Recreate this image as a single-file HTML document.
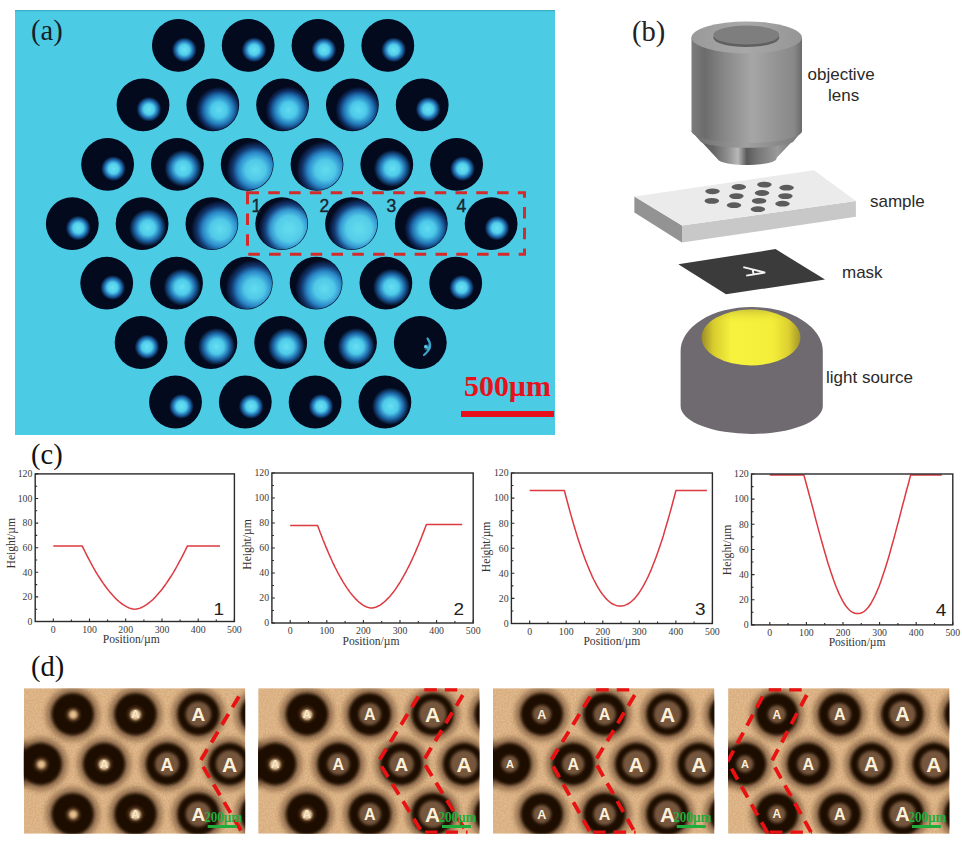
<!DOCTYPE html>
<html><head><meta charset="utf-8"><style>
html,body{margin:0;padding:0;background:#fff;overflow:hidden;}
svg{display:block;}
</style></head><body>
<svg width="962" height="845" viewBox="0 0 962 845">
<defs>
<radialGradient id="gS" cx="0.615" cy="0.585" r="0.24">
<stop offset="0" stop-color="#6ce2f2"/><stop offset="0.42" stop-color="#52cfec"/><stop offset="0.72" stop-color="#1e68ac" /><stop offset="1" stop-color="#040a1e"/></radialGradient>
<radialGradient id="gM" cx="0.61" cy="0.58" r="0.36">
<stop offset="0" stop-color="#68e0f2"/><stop offset="0.4" stop-color="#4ecbea"/><stop offset="0.7" stop-color="#1d68aa" /><stop offset="1" stop-color="#040a1e"/></radialGradient>
<radialGradient id="gN" cx="0.62" cy="0.6" r="0.45">
<stop offset="0" stop-color="#62dcf0"/><stop offset="0.34" stop-color="#4cc8ea"/><stop offset="0.64" stop-color="#2074b4"/><stop offset="0.84" stop-color="#0e2c60" /><stop offset="1" stop-color="#040a1e"/></radialGradient>
<radialGradient id="gP" cx="0.645" cy="0.6" r="0.59">
<stop offset="0" stop-color="#64dcee"/><stop offset="0.42" stop-color="#54cce8"/><stop offset="0.62" stop-color="#3496d0"/><stop offset="0.8" stop-color="#143c78" /><stop offset="1" stop-color="#040a1e"/></radialGradient>
<radialGradient id="gL" cx="0.66" cy="0.61" r="0.56">
<stop offset="0" stop-color="#62dcee"/><stop offset="0.35" stop-color="#50c8e8"/><stop offset="0.6" stop-color="#2a88c8"/><stop offset="0.8" stop-color="#12366e" /><stop offset="1" stop-color="#040a1e"/></radialGradient>
<radialGradient id="gX" cx="0.64" cy="0.6" r="0.08">
<stop offset="0" stop-color="#4cc0e0"/><stop offset="1" stop-color="#040a1e"/></radialGradient>
<linearGradient id="bodyG" x1="0" x2="1" y1="0" y2="0">
<stop offset="0" stop-color="#7c7c7c"/><stop offset="0.12" stop-color="#6c6c6c"/><stop offset="0.3" stop-color="#888"/><stop offset="0.55" stop-color="#a6a6a6"/><stop offset="0.78" stop-color="#939393"/><stop offset="0.93" stop-color="#888"/><stop offset="1" stop-color="#6a6a6a"/></linearGradient>
<linearGradient id="topG" x1="0" x2="1" y1="0" y2="0">
<stop offset="0" stop-color="#9a9a9a"/><stop offset="0.5" stop-color="#a8a8a8"/><stop offset="1" stop-color="#959595"/></linearGradient>
<linearGradient id="coneG" x1="0" x2="1" y1="0" y2="0">
<stop offset="0" stop-color="#555"/><stop offset="0.2" stop-color="#666"/><stop offset="0.33" stop-color="#909090"/><stop offset="0.42" stop-color="#b8b8b8"/><stop offset="0.5" stop-color="#5a5a5a"/><stop offset="0.6" stop-color="#777"/><stop offset="0.78" stop-color="#9a9a9a"/><stop offset="1" stop-color="#666"/></linearGradient>
<linearGradient id="cone2G" x1="0" x2="1" y1="0" y2="0">
<stop offset="0" stop-color="#6a6a6a"/><stop offset="0.5" stop-color="#a0a0a0"/><stop offset="1" stop-color="#7a7a7a"/></linearGradient>
<radialGradient id="yelG" cx="0.52" cy="0.45" r="0.55">
<stop offset="0" stop-color="#f6f23a"/><stop offset="0.55" stop-color="#f0ea30"/><stop offset="0.85" stop-color="#d2c228"/><stop offset="1" stop-color="#b09a2a"/></radialGradient>
<linearGradient id="yelH" x1="0" x2="1" y1="0" y2="0">
<stop offset="0" stop-color="#9a8c26"/><stop offset="0.12" stop-color="#d8cc2e"/><stop offset="0.3" stop-color="#f6f23e"/><stop offset="0.72" stop-color="#f4ee3a"/><stop offset="0.88" stop-color="#dcd030"/><stop offset="1" stop-color="#a4962a"/></linearGradient>
<linearGradient id="yelV" x1="0" x2="0" y1="0" y2="1">
<stop offset="0" stop-color="#8a7e28" stop-opacity="0.35"/><stop offset="0.25" stop-color="#f0ea38" stop-opacity="0"/><stop offset="1" stop-color="#f0ea38" stop-opacity="0"/></linearGradient>
<filter id="bl3" x="-50%" y="-50%" width="200%" height="200%"><feGaussianBlur stdDeviation="2.6"/></filter>
<filter id="bl2" x="-50%" y="-50%" width="200%" height="200%"><feGaussianBlur stdDeviation="1.8"/></filter>
<filter id="bl05" x="-50%" y="-50%" width="200%" height="200%"><feGaussianBlur stdDeviation="0.5"/></filter>
<filter id="bl15" x="-50%" y="-50%" width="200%" height="200%"><feGaussianBlur stdDeviation="1.5"/></filter>
<filter id="bl1" x="-50%" y="-50%" width="200%" height="200%"><feGaussianBlur stdDeviation="1"/></filter>
<filter id="noise"><feTurbulence type="fractalNoise" baseFrequency="0.6" numOctaves="2" seed="3"/><feColorMatrix type="matrix" values="0 0 0 0 0.92  0 0 0 0 0.76  0 0 0 0 0.56  1.2 0 0 0 -0.35"/><feComposite in2="SourceGraphic" operator="in"/></filter>
</defs>
<rect x="15" y="10" width="540" height="425" fill="#4ccbe5"/>
<rect x="15" y="10" width="540" height="1.2" fill="#3aaec6"/>
<circle cx="178.4" cy="45.4" r="26.4" fill="#040a1e"/>
<circle cx="178.4" cy="45.4" r="25.8" fill="url(#gS)"/>
<circle cx="248.2" cy="45.4" r="26.4" fill="#040a1e"/>
<circle cx="248.2" cy="45.4" r="25.8" fill="url(#gS)"/>
<circle cx="318.0" cy="45.4" r="26.4" fill="#040a1e"/>
<circle cx="318.0" cy="45.4" r="25.8" fill="url(#gS)"/>
<circle cx="387.8" cy="45.4" r="26.4" fill="#040a1e"/>
<circle cx="387.8" cy="45.4" r="25.8" fill="url(#gS)"/>
<circle cx="143.0" cy="104.8" r="26.4" fill="#040a1e"/>
<circle cx="143.0" cy="104.8" r="25.8" fill="url(#gS)"/>
<circle cx="212.8" cy="104.8" r="26.4" fill="#040a1e"/>
<circle cx="212.8" cy="104.8" r="25.8" fill="url(#gN)"/>
<circle cx="282.6" cy="104.8" r="26.4" fill="#040a1e"/>
<circle cx="282.6" cy="104.8" r="25.8" fill="url(#gN)"/>
<circle cx="352.4" cy="104.8" r="26.4" fill="#040a1e"/>
<circle cx="352.4" cy="104.8" r="25.8" fill="url(#gN)"/>
<circle cx="422.2" cy="104.8" r="26.4" fill="#040a1e"/>
<circle cx="422.2" cy="104.8" r="25.8" fill="url(#gS)"/>
<circle cx="107.6" cy="164.3" r="26.4" fill="#040a1e"/>
<circle cx="107.6" cy="164.3" r="25.8" fill="url(#gS)"/>
<circle cx="177.4" cy="164.3" r="26.4" fill="#040a1e"/>
<circle cx="177.4" cy="164.3" r="25.8" fill="url(#gM)"/>
<circle cx="247.2" cy="164.3" r="26.4" fill="#040a1e"/>
<circle cx="247.2" cy="164.3" r="25.8" fill="url(#gL)"/>
<circle cx="317.0" cy="164.3" r="26.4" fill="#040a1e"/>
<circle cx="317.0" cy="164.3" r="25.8" fill="url(#gL)"/>
<circle cx="386.8" cy="164.3" r="26.4" fill="#040a1e"/>
<circle cx="386.8" cy="164.3" r="25.8" fill="url(#gM)"/>
<circle cx="456.6" cy="164.3" r="26.4" fill="#040a1e"/>
<circle cx="456.6" cy="164.3" r="25.8" fill="url(#gS)"/>
<circle cx="72.3" cy="223.7" r="26.4" fill="#040a1e"/>
<circle cx="72.3" cy="223.7" r="25.8" fill="url(#gS)"/>
<circle cx="142.1" cy="223.7" r="26.4" fill="#040a1e"/>
<circle cx="142.1" cy="223.7" r="25.8" fill="url(#gM)"/>
<circle cx="211.9" cy="223.7" r="26.4" fill="#040a1e"/>
<circle cx="211.9" cy="223.7" r="25.8" fill="url(#gL)"/>
<circle cx="281.7" cy="223.7" r="26.4" fill="#040a1e"/>
<circle cx="281.7" cy="223.7" r="25.8" fill="url(#gP)"/>
<circle cx="351.5" cy="223.7" r="26.4" fill="#040a1e"/>
<circle cx="351.5" cy="223.7" r="25.8" fill="url(#gP)"/>
<circle cx="421.3" cy="223.7" r="26.4" fill="#040a1e"/>
<circle cx="421.3" cy="223.7" r="25.8" fill="url(#gN)"/>
<circle cx="491.1" cy="223.7" r="26.4" fill="#040a1e"/>
<circle cx="491.1" cy="223.7" r="25.8" fill="url(#gS)"/>
<circle cx="106.7" cy="283.1" r="26.4" fill="#040a1e"/>
<circle cx="106.7" cy="283.1" r="25.8" fill="url(#gS)"/>
<circle cx="176.5" cy="283.1" r="26.4" fill="#040a1e"/>
<circle cx="176.5" cy="283.1" r="25.8" fill="url(#gM)"/>
<circle cx="246.3" cy="283.1" r="26.4" fill="#040a1e"/>
<circle cx="246.3" cy="283.1" r="25.8" fill="url(#gL)"/>
<circle cx="316.1" cy="283.1" r="26.4" fill="#040a1e"/>
<circle cx="316.1" cy="283.1" r="25.8" fill="url(#gL)"/>
<circle cx="385.9" cy="283.1" r="26.4" fill="#040a1e"/>
<circle cx="385.9" cy="283.1" r="25.8" fill="url(#gM)"/>
<circle cx="455.7" cy="283.1" r="26.4" fill="#040a1e"/>
<circle cx="455.7" cy="283.1" r="25.8" fill="url(#gS)"/>
<circle cx="141.1" cy="342.5" r="26.4" fill="#040a1e"/>
<circle cx="141.1" cy="342.5" r="25.8" fill="url(#gS)"/>
<circle cx="210.9" cy="342.5" r="26.4" fill="#040a1e"/>
<circle cx="210.9" cy="342.5" r="25.8" fill="url(#gM)"/>
<circle cx="280.7" cy="342.5" r="26.4" fill="#040a1e"/>
<circle cx="280.7" cy="342.5" r="25.8" fill="url(#gM)"/>
<circle cx="350.5" cy="342.5" r="26.4" fill="#040a1e"/>
<circle cx="350.5" cy="342.5" r="25.8" fill="url(#gM)"/>
<circle cx="420.3" cy="342.5" r="26.4" fill="#040a1e"/>
<circle cx="420.3" cy="342.5" r="25.8" fill="url(#gX)"/>
<circle cx="175.5" cy="402.0" r="26.4" fill="#040a1e"/>
<circle cx="175.5" cy="402.0" r="25.8" fill="url(#gS)"/>
<circle cx="245.3" cy="402.0" r="26.4" fill="#040a1e"/>
<circle cx="245.3" cy="402.0" r="25.8" fill="url(#gS)"/>
<circle cx="315.1" cy="402.0" r="26.4" fill="#040a1e"/>
<circle cx="315.1" cy="402.0" r="25.8" fill="url(#gS)"/>
<circle cx="384.9" cy="402.0" r="26.4" fill="#040a1e"/>
<circle cx="384.9" cy="402.0" r="25.8" fill="url(#gM)"/>
<path d="M427.5,338.5 Q434,347 424,355" fill="none" stroke="#3fb4dc" stroke-width="2.2" stroke-linecap="round" opacity="0.9"/>
<circle cx="425.6" cy="346.5" r="1.6" fill="#5ad0ee"/>
<text x="31" y="39.8" font-family="Liberation Serif, serif" font-size="28.5" fill="#15202a">(a)</text>
<rect x="247.5" y="192.8" width="277" height="61.5" fill="none" stroke="#d42a2a" stroke-width="3" stroke-dasharray="11.5 9.3"/>
<text x="251.5" y="212" font-family="Liberation Sans, sans-serif" font-size="17.5" fill="#1c2630" stroke="#1c2630" stroke-width="0.4">1</text>
<text x="319.5" y="212" font-family="Liberation Sans, sans-serif" font-size="17.5" fill="#1c2630" stroke="#1c2630" stroke-width="0.4">2</text>
<text x="386.5" y="212" font-family="Liberation Sans, sans-serif" font-size="17.5" fill="#1c2630" stroke="#1c2630" stroke-width="0.4">3</text>
<text x="456.5" y="212" font-family="Liberation Sans, sans-serif" font-size="17.5" fill="#1c2630" stroke="#1c2630" stroke-width="0.4">4</text>
<text x="464" y="396" font-family="Liberation Serif, serif" font-weight="bold" font-size="29.5" fill="#e8101a" textLength="87" lengthAdjust="spacingAndGlyphs">500µm</text>
<rect x="461" y="411" width="93" height="6" fill="#e8101a"/>
<text x="632" y="41" font-family="Liberation Serif, serif" font-size="28.5" fill="#222">(b)</text>
<path d="M691.5,131 L717.5,159 A29.5,6.5 0 0 0 776.5,158 L802,131 Z" fill="url(#coneG)"/>
<path d="M691.5,131 L701,142 A48,8 0 0 0 793,142 L802,131 Z" fill="url(#cone2G)"/>
<path d="M691.5,37.5 L691.5,131 A55.25,12 0 0 0 802,131 L802,37.5 Z" fill="url(#bodyG)"/>
<ellipse cx="746.7" cy="37.5" rx="55.25" ry="16" fill="url(#topG)"/>
<ellipse cx="746.3" cy="37.5" rx="33" ry="9.5" fill="#5f5f5f"/>
<ellipse cx="746.3" cy="35" rx="33" ry="9.5" fill="#7e7e7e"/>
<text font-family="Liberation Sans, sans-serif" font-size="17" fill="#2a2a2a"><tspan x="807.5" y="80">objective</tspan><tspan x="828" y="101">lens</tspan></text>
<polygon points="634.4,196.4 682,225.4 682,242.5 634.4,212.5" fill="#939393"/>
<polygon points="682,225.4 855.9,201 855.9,216.8 682,242.5" fill="#c8c8c8"/>
<polygon points="634.4,196.4 814,170.3 855.9,201 682,225.4" fill="#ebebeb"/>
<ellipse cx="712.5" cy="191.3" rx="7.3" ry="2.9" fill="#5c5c5c"/>
<ellipse cx="738.8" cy="187" rx="7.3" ry="2.9" fill="#5c5c5c"/>
<ellipse cx="764.4" cy="184.6" rx="7.3" ry="2.9" fill="#5c5c5c"/>
<ellipse cx="786.6" cy="187.7" rx="7.3" ry="2.9" fill="#5c5c5c"/>
<ellipse cx="711.8" cy="200.9" rx="7.3" ry="2.9" fill="#5c5c5c"/>
<ellipse cx="736.4" cy="196.1" rx="7.3" ry="2.9" fill="#5c5c5c"/>
<ellipse cx="762" cy="193" rx="7.3" ry="2.9" fill="#5c5c5c"/>
<ellipse cx="785.4" cy="196.1" rx="7.3" ry="2.9" fill="#5c5c5c"/>
<ellipse cx="734" cy="205.2" rx="7.3" ry="2.9" fill="#5c5c5c"/>
<ellipse cx="759.1" cy="200.9" rx="7.3" ry="2.9" fill="#5c5c5c"/>
<ellipse cx="782.5" cy="203.7" rx="7.3" ry="2.9" fill="#5c5c5c"/>
<ellipse cx="757.9" cy="209.2" rx="7.3" ry="2.9" fill="#5c5c5c"/>
<text x="870" y="207" font-family="Liberation Sans, sans-serif" font-size="17" fill="#2a2a2a">sample</text>
<polygon points="678.3,264.3 775.5,249.1 825,279.5 726,294.3" fill="#3b3b3b"/>
<path d="M743.3,267.2 L765.2,272.6 L746.2,275.6 M752.5,269.2 L753.6,274.2" fill="none" stroke="#f4f4f4" stroke-width="1.9" stroke-linejoin="miter"/>
<text x="842" y="278" font-family="Liberation Sans, sans-serif" font-size="17" fill="#2a2a2a">mask</text>
<path d="M680.6,351 A71.1,44 0 0 1 822.8,351 L822.8,406 A71.1,28 0 0 1 680.6,406 Z" fill="#6f6a70"/>
<ellipse cx="751" cy="337.5" rx="49.4" ry="27.9" fill="url(#yelH)"/>
<ellipse cx="751" cy="337.5" rx="49.4" ry="27.9" fill="url(#yelV)"/>
<text x="826" y="383" font-family="Liberation Sans, sans-serif" font-size="17" fill="#2a2a2a">light source</text>
<text x="31" y="464" font-family="Liberation Serif, serif" font-size="28.5" fill="#111">(c)</text>
<path d="M53.3,546.1 L82.3,546.1 L83.6,548.8 L84.9,551.5 L86.2,554.1 L87.5,556.7 L88.8,559.2 L90.2,561.7 L91.5,564.1 L92.8,566.5 L94.1,568.8 L95.4,571.1 L96.7,573.3 L98.0,575.4 L99.4,577.5 L100.7,579.5 L102.0,581.5 L103.3,583.4 L104.6,585.2 L105.9,587.0 L107.2,588.8 L108.5,590.4 L109.9,592.1 L111.2,593.6 L112.5,595.1 L113.8,596.5 L115.1,597.9 L116.4,599.2 L117.7,600.4 L119.0,601.5 L120.4,602.6 L121.7,603.6 L123.0,604.6 L124.3,605.4 L125.6,606.2 L126.9,606.9 L128.2,607.5 L129.5,608.1 L130.9,608.5 L132.2,608.9 L133.5,609.1 L134.8,609.2 L136.1,609.1 L137.4,608.9 L138.7,608.5 L140.1,608.1 L141.4,607.5 L142.7,606.9 L144.0,606.2 L145.3,605.4 L146.6,604.6 L147.9,603.6 L149.2,602.6 L150.6,601.5 L151.9,600.4 L153.2,599.2 L154.5,597.9 L155.8,596.5 L157.1,595.1 L158.4,593.6 L159.7,592.1 L161.1,590.4 L162.4,588.8 L163.7,587.0 L165.0,585.2 L166.3,583.4 L167.6,581.5 L168.9,579.5 L170.2,577.5 L171.6,575.4 L172.9,573.3 L174.2,571.1 L175.5,568.8 L176.8,566.5 L178.1,564.1 L179.4,561.7 L180.8,559.2 L182.1,556.7 L183.4,554.1 L184.7,551.5 L186.0,548.8 L187.3,546.1 L219.9,546.1" fill="none" stroke="#dc3a40" stroke-width="1.5" stroke-linejoin="round"/>
<rect x="35.2" y="473.9" width="199.2" height="147.6" fill="none" stroke="#2a2a2a" stroke-width="1.4"/>
<path d="M35.2,621.5 h3 M35.2,609.2 h2 M35.2,596.9 h3 M35.2,584.6 h2 M35.2,572.3 h3 M35.2,560.0 h2 M35.2,547.7 h3 M35.2,535.4 h2 M35.2,523.1 h3 M35.2,510.8 h2 M35.2,498.5 h3 M35.2,486.2 h2 M35.2,473.9 h3 M53.3,621.5 v-3 M71.4,621.5 v-2 M89.5,621.5 v-3 M107.6,621.5 v-2 M125.7,621.5 v-3 M143.9,621.5 v-2 M162.0,621.5 v-3 M180.1,621.5 v-2 M198.2,621.5 v-3 M216.3,621.5 v-2 M234.4,621.5 v-3" stroke="#2a2a2a" stroke-width="1.1"/>
<g font-family="Liberation Serif, serif" font-size="9.8" fill="#3a3a3a"><text x="32.4" y="624.8" text-anchor="end">0</text><text x="32.4" y="600.2" text-anchor="end">20</text><text x="32.4" y="575.6" text-anchor="end">40</text><text x="32.4" y="551.0" text-anchor="end">60</text><text x="32.4" y="526.4" text-anchor="end">80</text><text x="32.4" y="501.8" text-anchor="end">100</text><text x="32.4" y="477.2" text-anchor="end">120</text><text x="53.3" y="632.7" text-anchor="middle">0</text><text x="89.5" y="632.7" text-anchor="middle">100</text><text x="125.7" y="632.7" text-anchor="middle">200</text><text x="162.0" y="632.7" text-anchor="middle">300</text><text x="198.2" y="632.7" text-anchor="middle">400</text><text x="234.4" y="632.7" text-anchor="middle">500</text></g>
<text x="131.2" y="643.0" text-anchor="middle" font-family="Liberation Serif, serif" font-size="11.6" fill="#333">Position/µm</text>
<text transform="translate(15.1,543.2) rotate(-90)" text-anchor="middle" font-family="Liberation Serif, serif" font-size="11.6" fill="#333">Height/µm</text>
<text transform="translate(213.4,614.5) scale(1.12,1)" font-family="Liberation Sans, sans-serif" font-size="17" fill="#222">1</text>
<path d="M290.2,525.5 L317.6,525.5 L319.0,529.2 L320.3,532.8 L321.7,536.3 L323.0,539.8 L324.4,543.1 L325.7,546.4 L327.1,549.6 L328.4,552.8 L329.8,555.9 L331.1,558.8 L332.4,561.8 L333.8,564.6 L335.1,567.3 L336.5,570.0 L337.8,572.6 L339.2,575.1 L340.5,577.5 L341.9,579.9 L343.2,582.1 L344.6,584.3 L345.9,586.4 L347.2,588.4 L348.6,590.3 L349.9,592.1 L351.3,593.9 L352.6,595.5 L354.0,597.1 L355.3,598.6 L356.7,599.9 L358.0,601.2 L359.3,602.4 L360.7,603.4 L362.0,604.4 L363.4,605.3 L364.7,606.0 L366.1,606.7 L367.4,607.2 L368.8,607.6 L370.1,607.9 L371.5,608.0 L372.8,607.9 L374.2,607.6 L375.6,607.2 L376.9,606.7 L378.3,606.0 L379.7,605.3 L381.1,604.4 L382.4,603.4 L383.8,602.3 L385.2,601.1 L386.5,599.8 L387.9,598.4 L389.3,597.0 L390.7,595.4 L392.0,593.7 L393.4,592.0 L394.8,590.1 L396.2,588.2 L397.5,586.1 L398.9,584.0 L400.3,581.8 L401.6,579.5 L403.0,577.2 L404.4,574.7 L405.8,572.2 L407.1,569.5 L408.5,566.8 L409.9,564.1 L411.3,561.2 L412.6,558.2 L414.0,555.2 L415.4,552.1 L416.7,548.9 L418.1,545.7 L419.5,542.3 L420.9,538.9 L422.2,535.4 L423.6,531.9 L425.0,528.2 L426.4,524.5 L462.2,524.5" fill="none" stroke="#dc3a40" stroke-width="1.5" stroke-linejoin="round"/>
<rect x="271.9" y="473.0" width="201.3" height="150.0" fill="none" stroke="#2a2a2a" stroke-width="1.4"/>
<path d="M271.9,623.0 h3 M271.9,610.5 h2 M271.9,598.0 h3 M271.9,585.5 h2 M271.9,573.0 h3 M271.9,560.5 h2 M271.9,548.0 h3 M271.9,535.5 h2 M271.9,523.0 h3 M271.9,510.5 h2 M271.9,498.0 h3 M271.9,485.5 h2 M271.9,473.0 h3 M290.2,623.0 v-3 M308.5,623.0 v-2 M326.8,623.0 v-3 M345.1,623.0 v-2 M363.4,623.0 v-3 M381.7,623.0 v-2 M400.0,623.0 v-3 M418.3,623.0 v-2 M436.6,623.0 v-3 M454.9,623.0 v-2 M473.2,623.0 v-3" stroke="#2a2a2a" stroke-width="1.1"/>
<g font-family="Liberation Serif, serif" font-size="9.8" fill="#3a3a3a"><text x="269.1" y="626.3" text-anchor="end">0</text><text x="269.1" y="601.3" text-anchor="end">20</text><text x="269.1" y="576.3" text-anchor="end">40</text><text x="269.1" y="551.3" text-anchor="end">60</text><text x="269.1" y="526.3" text-anchor="end">80</text><text x="269.1" y="501.3" text-anchor="end">100</text><text x="269.1" y="476.3" text-anchor="end">120</text><text x="290.2" y="634.2" text-anchor="middle">0</text><text x="326.8" y="634.2" text-anchor="middle">100</text><text x="363.4" y="634.2" text-anchor="middle">200</text><text x="400.0" y="634.2" text-anchor="middle">300</text><text x="436.6" y="634.2" text-anchor="middle">400</text><text x="473.2" y="634.2" text-anchor="middle">500</text></g>
<text x="371.0" y="644.5" text-anchor="middle" font-family="Liberation Serif, serif" font-size="11.6" fill="#333">Position/µm</text>
<text transform="translate(251.4,544.5) rotate(-90)" text-anchor="middle" font-family="Liberation Serif, serif" font-size="11.6" fill="#333">Height/µm</text>
<text transform="translate(453.5,615.2) scale(1.12,1)" font-family="Liberation Sans, sans-serif" font-size="17" fill="#222">2</text>
<path d="M529.7,490.6 L564.4,490.6 L565.8,496.0 L567.2,501.3 L568.6,506.5 L570.0,511.6 L571.4,516.6 L572.8,521.5 L574.2,526.3 L575.6,530.9 L577.0,535.5 L578.4,539.9 L579.8,544.1 L581.2,548.3 L582.6,552.3 L584.0,556.2 L585.4,559.9 L586.8,563.5 L588.2,567.0 L589.6,570.4 L591.0,573.5 L592.3,576.6 L593.7,579.5 L595.1,582.2 L596.5,584.9 L597.9,587.3 L599.3,589.6 L600.7,591.8 L602.1,593.8 L603.5,595.6 L604.9,597.3 L606.3,598.9 L607.7,600.2 L609.1,601.5 L610.5,602.6 L611.9,603.5 L613.3,604.3 L614.7,604.9 L616.1,605.4 L617.5,605.7 L618.9,605.9 L620.3,605.9 L621.7,605.9 L623.1,605.7 L624.5,605.4 L625.9,604.9 L627.2,604.3 L628.6,603.5 L630.0,602.6 L631.4,601.5 L632.8,600.2 L634.2,598.9 L635.6,597.3 L637.0,595.6 L638.4,593.8 L639.7,591.8 L641.1,589.6 L642.5,587.3 L643.9,584.9 L645.3,582.2 L646.7,579.5 L648.1,576.6 L649.5,573.5 L650.9,570.4 L652.2,567.0 L653.6,563.5 L655.0,559.9 L656.4,556.2 L657.8,552.3 L659.2,548.3 L660.6,544.1 L662.0,539.9 L663.4,535.5 L664.7,530.9 L666.1,526.3 L667.5,521.5 L668.9,516.6 L670.3,511.6 L671.7,506.5 L673.1,501.3 L674.5,496.0 L675.9,490.6 L706.9,490.6" fill="none" stroke="#dc3a40" stroke-width="1.5" stroke-linejoin="round"/>
<rect x="511.4" y="473.0" width="201.0" height="150.5" fill="none" stroke="#2a2a2a" stroke-width="1.4"/>
<path d="M511.4,623.5 h3 M511.4,611.0 h2 M511.4,598.4 h3 M511.4,585.9 h2 M511.4,573.3 h3 M511.4,560.8 h2 M511.4,548.2 h3 M511.4,535.7 h2 M511.4,523.2 h3 M511.4,510.6 h2 M511.4,498.1 h3 M511.4,485.5 h2 M511.4,473.0 h3 M529.7,623.5 v-3 M547.9,623.5 v-2 M566.2,623.5 v-3 M584.5,623.5 v-2 M602.8,623.5 v-3 M621.0,623.5 v-2 M639.3,623.5 v-3 M657.6,623.5 v-2 M675.9,623.5 v-3 M694.1,623.5 v-2 M712.4,623.5 v-3" stroke="#2a2a2a" stroke-width="1.1"/>
<g font-family="Liberation Serif, serif" font-size="9.8" fill="#3a3a3a"><text x="508.6" y="626.8" text-anchor="end">0</text><text x="508.6" y="601.7" text-anchor="end">20</text><text x="508.6" y="576.6" text-anchor="end">40</text><text x="508.6" y="551.5" text-anchor="end">60</text><text x="508.6" y="526.5" text-anchor="end">80</text><text x="508.6" y="501.4" text-anchor="end">100</text><text x="508.6" y="476.3" text-anchor="end">120</text><text x="529.7" y="634.7" text-anchor="middle">0</text><text x="566.2" y="634.7" text-anchor="middle">100</text><text x="602.8" y="634.7" text-anchor="middle">200</text><text x="639.3" y="634.7" text-anchor="middle">300</text><text x="675.9" y="634.7" text-anchor="middle">400</text><text x="712.4" y="634.7" text-anchor="middle">500</text></g>
<text x="611.9" y="645.0" text-anchor="middle" font-family="Liberation Serif, serif" font-size="11.6" fill="#333">Position/µm</text>
<text transform="translate(490.2,546.9) rotate(-90)" text-anchor="middle" font-family="Liberation Serif, serif" font-size="11.6" fill="#333">Height/µm</text>
<text transform="translate(695.0,614.7) scale(1.12,1)" font-family="Liberation Sans, sans-serif" font-size="17" fill="#222">3</text>
<path d="M769.8,474.9 L803.8,474.9 L805.2,479.8 L806.5,484.7 L807.9,489.7 L809.2,494.7 L810.6,499.8 L811.9,504.8 L813.3,509.9 L814.6,515.0 L815.9,520.1 L817.3,525.1 L818.6,530.1 L820.0,535.1 L821.3,540.0 L822.7,544.8 L824.0,549.5 L825.4,554.2 L826.7,558.7 L828.0,563.2 L829.4,567.5 L830.7,571.6 L832.1,575.6 L833.4,579.5 L834.8,583.2 L836.1,586.7 L837.5,590.0 L838.8,593.1 L840.2,596.0 L841.5,598.7 L842.8,601.2 L844.2,603.5 L845.5,605.5 L846.9,607.3 L848.2,608.8 L849.6,610.2 L850.9,611.3 L852.3,612.1 L853.6,612.8 L854.9,613.3 L856.3,613.5 L857.6,613.6 L859.0,613.5 L860.3,613.3 L861.6,612.8 L862.9,612.1 L864.3,611.3 L865.6,610.2 L866.9,608.8 L868.3,607.3 L869.6,605.5 L870.9,603.5 L872.2,601.2 L873.6,598.7 L874.9,596.0 L876.2,593.1 L877.5,590.0 L878.9,586.7 L880.2,583.2 L881.5,579.5 L882.8,575.6 L884.2,571.6 L885.5,567.5 L886.8,563.2 L888.2,558.7 L889.5,554.2 L890.8,549.5 L892.1,544.8 L893.5,540.0 L894.8,535.1 L896.1,530.1 L897.4,525.1 L898.8,520.1 L900.1,515.0 L901.4,509.9 L902.7,504.8 L904.1,499.8 L905.4,494.7 L906.7,489.7 L908.1,484.7 L909.4,479.8 L910.7,474.9 L941.8,474.9" fill="none" stroke="#dc3a40" stroke-width="1.5" stroke-linejoin="round"/>
<rect x="751.5" y="474.0" width="201.3" height="150.9" fill="none" stroke="#2a2a2a" stroke-width="1.4"/>
<path d="M751.5,624.9 h3 M751.5,612.3 h2 M751.5,599.8 h3 M751.5,587.2 h2 M751.5,574.6 h3 M751.5,562.0 h2 M751.5,549.5 h3 M751.5,536.9 h2 M751.5,524.3 h3 M751.5,511.7 h2 M751.5,499.1 h3 M751.5,486.6 h2 M751.5,474.0 h3 M769.8,624.9 v-3 M788.1,624.9 v-2 M806.4,624.9 v-3 M824.7,624.9 v-2 M843.0,624.9 v-3 M861.3,624.9 v-2 M879.6,624.9 v-3 M897.9,624.9 v-2 M916.2,624.9 v-3 M934.5,624.9 v-2 M952.8,624.9 v-3" stroke="#2a2a2a" stroke-width="1.1"/>
<g font-family="Liberation Serif, serif" font-size="9.8" fill="#3a3a3a"><text x="748.7" y="628.2" text-anchor="end">0</text><text x="748.7" y="603.0" text-anchor="end">20</text><text x="748.7" y="577.9" text-anchor="end">40</text><text x="748.7" y="552.8" text-anchor="end">60</text><text x="748.7" y="527.6" text-anchor="end">80</text><text x="748.7" y="502.4" text-anchor="end">100</text><text x="748.7" y="477.3" text-anchor="end">120</text><text x="769.8" y="636.1" text-anchor="middle">0</text><text x="806.4" y="636.1" text-anchor="middle">100</text><text x="843.0" y="636.1" text-anchor="middle">200</text><text x="879.6" y="636.1" text-anchor="middle">300</text><text x="916.2" y="636.1" text-anchor="middle">400</text><text x="952.8" y="636.1" text-anchor="middle">500</text></g>
<text x="857.1" y="646.4" text-anchor="middle" font-family="Liberation Serif, serif" font-size="11.6" fill="#333">Position/µm</text>
<text transform="translate(731.0,549.9) rotate(-90)" text-anchor="middle" font-family="Liberation Serif, serif" font-size="11.6" fill="#333">Height/µm</text>
<text transform="translate(935.8,616.4) scale(1.12,1)" font-family="Liberation Sans, sans-serif" font-size="17" fill="#222">4</text>
<text x="31" y="676.3" font-family="Liberation Serif, serif" font-size="28.5" fill="#111">(d)</text>
<clipPath id="dc0"><rect x="23.9" y="688.2" width="221.3" height="145.5"/></clipPath>
<g clip-path="url(#dc0)">
<rect x="23.9" y="688.2" width="221.3" height="145.5" fill="#d8ac7c"/>
<rect x="23.9" y="688.2" width="221.3" height="145.5" fill="#e8c8a0" filter="url(#noise)" opacity="0.55"/>
<circle cx="72.7" cy="714.2" r="27" fill="#4a2c16" opacity="0.45" filter="url(#bl3)"/>
<circle cx="135.5" cy="714.2" r="27" fill="#4a2c16" opacity="0.45" filter="url(#bl3)"/>
<circle cx="198.4" cy="714.2" r="27" fill="#4a2c16" opacity="0.45" filter="url(#bl3)"/>
<circle cx="261.3" cy="714.2" r="27" fill="#4a2c16" opacity="0.45" filter="url(#bl3)"/>
<circle cx="9.9" cy="764.0" r="27" fill="#4a2c16" opacity="0.45" filter="url(#bl3)"/>
<circle cx="40.8" cy="764.0" r="27" fill="#4a2c16" opacity="0.45" filter="url(#bl3)"/>
<circle cx="104.1" cy="764.0" r="27" fill="#4a2c16" opacity="0.45" filter="url(#bl3)"/>
<circle cx="167.1" cy="764.0" r="27" fill="#4a2c16" opacity="0.45" filter="url(#bl3)"/>
<circle cx="229.7" cy="764.0" r="27" fill="#4a2c16" opacity="0.45" filter="url(#bl3)"/>
<circle cx="72.7" cy="814.1" r="27" fill="#4a2c16" opacity="0.45" filter="url(#bl3)"/>
<circle cx="135.5" cy="814.1" r="27" fill="#4a2c16" opacity="0.45" filter="url(#bl3)"/>
<circle cx="198.4" cy="814.1" r="27" fill="#4a2c16" opacity="0.45" filter="url(#bl3)"/>
<circle cx="261.3" cy="814.1" r="27" fill="#4a2c16" opacity="0.45" filter="url(#bl3)"/>
<circle cx="72.7" cy="714.2" r="21.2" fill="#1c0d05" filter="url(#bl2)"/>
<circle cx="135.5" cy="714.2" r="21.2" fill="#1c0d05" filter="url(#bl2)"/>
<circle cx="198.4" cy="714.2" r="21.2" fill="#1c0d05" filter="url(#bl2)"/>
<circle cx="261.3" cy="714.2" r="21.2" fill="#1c0d05" filter="url(#bl2)"/>
<circle cx="9.9" cy="764.0" r="21.2" fill="#1c0d05" filter="url(#bl2)"/>
<circle cx="40.8" cy="764.0" r="21.2" fill="#1c0d05" filter="url(#bl2)"/>
<circle cx="104.1" cy="764.0" r="21.2" fill="#1c0d05" filter="url(#bl2)"/>
<circle cx="167.1" cy="764.0" r="21.2" fill="#1c0d05" filter="url(#bl2)"/>
<circle cx="229.7" cy="764.0" r="21.2" fill="#1c0d05" filter="url(#bl2)"/>
<circle cx="72.7" cy="814.1" r="21.2" fill="#1c0d05" filter="url(#bl2)"/>
<circle cx="135.5" cy="814.1" r="21.2" fill="#1c0d05" filter="url(#bl2)"/>
<circle cx="198.4" cy="814.1" r="21.2" fill="#1c0d05" filter="url(#bl2)"/>
<circle cx="261.3" cy="814.1" r="21.2" fill="#1c0d05" filter="url(#bl2)"/>
<circle cx="73.2" cy="714.7" r="8" fill="#3a200e" filter="url(#bl1)"/>
<circle cx="73.2" cy="714.7" r="4.6" fill="#e6c08e" filter="url(#bl15)"/>
<circle cx="135.5" cy="714.2" r="9" fill="#3a200e" filter="url(#bl1)"/>
<circle cx="135.5" cy="714.7" r="5.5" fill="#e8c89c" filter="url(#bl1)"/>
<text x="135.5" y="718.4" text-anchor="middle" font-family="Liberation Sans, sans-serif" font-weight="bold" font-size="11.5" fill="#f6e6c8" filter="url(#bl05)">A</text>
<circle cx="198.4" cy="714.2" r="12.7" fill="#76563c" filter="url(#bl15)"/>
<text x="198.4" y="721.0" text-anchor="middle" font-family="Liberation Sans, sans-serif" font-weight="bold" font-size="19.0" fill="#fbf0d8">A</text>
<circle cx="261.3" cy="714.2" r="13.7" fill="#76563c" filter="url(#bl15)"/>
<text x="261.3" y="721.8" text-anchor="middle" font-family="Liberation Sans, sans-serif" font-weight="bold" font-size="21.0" fill="#fbf0d8">A</text>
<circle cx="10.4" cy="764.5" r="8" fill="#3a200e" filter="url(#bl1)"/>
<circle cx="10.4" cy="764.5" r="4.6" fill="#e6c08e" filter="url(#bl15)"/>
<circle cx="41.3" cy="764.5" r="8" fill="#3a200e" filter="url(#bl1)"/>
<circle cx="41.3" cy="764.5" r="4.6" fill="#e6c08e" filter="url(#bl15)"/>
<circle cx="104.1" cy="764.0" r="9" fill="#3a200e" filter="url(#bl1)"/>
<circle cx="104.1" cy="764.5" r="5.5" fill="#e8c89c" filter="url(#bl1)"/>
<text x="104.1" y="768.2" text-anchor="middle" font-family="Liberation Sans, sans-serif" font-weight="bold" font-size="11.5" fill="#f6e6c8" filter="url(#bl05)">A</text>
<circle cx="167.1" cy="764.0" r="12.1" fill="#76563c" filter="url(#bl15)"/>
<text x="167.1" y="770.5" text-anchor="middle" font-family="Liberation Sans, sans-serif" font-weight="bold" font-size="18.0" fill="#fbf0d8">A</text>
<circle cx="229.7" cy="764.0" r="13.7" fill="#76563c" filter="url(#bl15)"/>
<text x="229.7" y="771.6" text-anchor="middle" font-family="Liberation Sans, sans-serif" font-weight="bold" font-size="21.0" fill="#fbf0d8">A</text>
<circle cx="73.2" cy="814.6" r="8" fill="#3a200e" filter="url(#bl1)"/>
<circle cx="73.2" cy="814.6" r="4.6" fill="#e6c08e" filter="url(#bl15)"/>
<circle cx="135.5" cy="814.1" r="9" fill="#3a200e" filter="url(#bl1)"/>
<circle cx="135.5" cy="814.6" r="5.5" fill="#e8c89c" filter="url(#bl1)"/>
<text x="135.5" y="818.3" text-anchor="middle" font-family="Liberation Sans, sans-serif" font-weight="bold" font-size="11.5" fill="#f6e6c8" filter="url(#bl05)">A</text>
<circle cx="198.4" cy="814.1" r="12.7" fill="#76563c" filter="url(#bl15)"/>
<text x="198.4" y="820.9" text-anchor="middle" font-family="Liberation Sans, sans-serif" font-weight="bold" font-size="19.0" fill="#fbf0d8">A</text>
<circle cx="261.3" cy="814.1" r="13.7" fill="#76563c" filter="url(#bl15)"/>
<text x="261.3" y="821.7" text-anchor="middle" font-family="Liberation Sans, sans-serif" font-weight="bold" font-size="21.0" fill="#fbf0d8">A</text>
<path d="M238.9,696.5 L200.0,761.5 L242.9,833.7" fill="none" stroke="#e81212" stroke-width="3.8" stroke-dasharray="12.5 8"/>
<text x="204.2" y="822" font-family="Liberation Serif, serif" font-weight="bold" font-size="14" fill="#1fae3c" textLength="38" lengthAdjust="spacingAndGlyphs">200µm</text>
<rect x="207.7" y="825" width="29" height="3" fill="#1fae3c"/>
</g>
<clipPath id="dc1"><rect x="258.2" y="688.2" width="221.3" height="145.5"/></clipPath>
<g clip-path="url(#dc1)">
<rect x="258.2" y="688.2" width="221.3" height="145.5" fill="#d8ac7c"/>
<rect x="258.2" y="688.2" width="221.3" height="145.5" fill="#e8c8a0" filter="url(#noise)" opacity="0.55"/>
<circle cx="307.0" cy="714.2" r="27" fill="#4a2c16" opacity="0.45" filter="url(#bl3)"/>
<circle cx="369.8" cy="714.2" r="27" fill="#4a2c16" opacity="0.45" filter="url(#bl3)"/>
<circle cx="432.7" cy="714.2" r="27" fill="#4a2c16" opacity="0.45" filter="url(#bl3)"/>
<circle cx="495.6" cy="714.2" r="27" fill="#4a2c16" opacity="0.45" filter="url(#bl3)"/>
<circle cx="244.2" cy="764.0" r="27" fill="#4a2c16" opacity="0.45" filter="url(#bl3)"/>
<circle cx="275.1" cy="764.0" r="27" fill="#4a2c16" opacity="0.45" filter="url(#bl3)"/>
<circle cx="338.4" cy="764.0" r="27" fill="#4a2c16" opacity="0.45" filter="url(#bl3)"/>
<circle cx="401.4" cy="764.0" r="27" fill="#4a2c16" opacity="0.45" filter="url(#bl3)"/>
<circle cx="464.0" cy="764.0" r="27" fill="#4a2c16" opacity="0.45" filter="url(#bl3)"/>
<circle cx="307.0" cy="814.1" r="27" fill="#4a2c16" opacity="0.45" filter="url(#bl3)"/>
<circle cx="369.8" cy="814.1" r="27" fill="#4a2c16" opacity="0.45" filter="url(#bl3)"/>
<circle cx="432.7" cy="814.1" r="27" fill="#4a2c16" opacity="0.45" filter="url(#bl3)"/>
<circle cx="495.6" cy="814.1" r="27" fill="#4a2c16" opacity="0.45" filter="url(#bl3)"/>
<circle cx="307.0" cy="714.2" r="21.2" fill="#1c0d05" filter="url(#bl2)"/>
<circle cx="369.8" cy="714.2" r="21.2" fill="#1c0d05" filter="url(#bl2)"/>
<circle cx="432.7" cy="714.2" r="21.2" fill="#1c0d05" filter="url(#bl2)"/>
<circle cx="495.6" cy="714.2" r="21.2" fill="#1c0d05" filter="url(#bl2)"/>
<circle cx="244.2" cy="764.0" r="21.2" fill="#1c0d05" filter="url(#bl2)"/>
<circle cx="275.1" cy="764.0" r="21.2" fill="#1c0d05" filter="url(#bl2)"/>
<circle cx="338.4" cy="764.0" r="21.2" fill="#1c0d05" filter="url(#bl2)"/>
<circle cx="401.4" cy="764.0" r="21.2" fill="#1c0d05" filter="url(#bl2)"/>
<circle cx="464.0" cy="764.0" r="21.2" fill="#1c0d05" filter="url(#bl2)"/>
<circle cx="307.0" cy="814.1" r="21.2" fill="#1c0d05" filter="url(#bl2)"/>
<circle cx="369.8" cy="814.1" r="21.2" fill="#1c0d05" filter="url(#bl2)"/>
<circle cx="432.7" cy="814.1" r="21.2" fill="#1c0d05" filter="url(#bl2)"/>
<circle cx="495.6" cy="814.1" r="21.2" fill="#1c0d05" filter="url(#bl2)"/>
<circle cx="307.0" cy="714.2" r="9" fill="#3a200e" filter="url(#bl1)"/>
<circle cx="307.0" cy="714.7" r="5.5" fill="#e8c89c" filter="url(#bl1)"/>
<text x="307.0" y="718.4" text-anchor="middle" font-family="Liberation Sans, sans-serif" font-weight="bold" font-size="11.5" fill="#f6e6c8" filter="url(#bl05)">A</text>
<circle cx="369.8" cy="714.2" r="11.1" fill="#76563c" filter="url(#bl15)"/>
<text x="369.8" y="720.0" text-anchor="middle" font-family="Liberation Sans, sans-serif" font-weight="bold" font-size="16.0" fill="#fbf0d8">A</text>
<circle cx="432.7" cy="714.2" r="13.7" fill="#76563c" filter="url(#bl15)"/>
<text x="432.7" y="721.8" text-anchor="middle" font-family="Liberation Sans, sans-serif" font-weight="bold" font-size="21.0" fill="#fbf0d8">A</text>
<circle cx="495.6" cy="714.2" r="13.7" fill="#76563c" filter="url(#bl15)"/>
<text x="495.6" y="721.8" text-anchor="middle" font-family="Liberation Sans, sans-serif" font-weight="bold" font-size="21.0" fill="#fbf0d8">A</text>
<circle cx="244.2" cy="764.0" r="9" fill="#3a200e" filter="url(#bl1)"/>
<circle cx="244.2" cy="764.5" r="5.5" fill="#e8c89c" filter="url(#bl1)"/>
<text x="244.2" y="768.2" text-anchor="middle" font-family="Liberation Sans, sans-serif" font-weight="bold" font-size="11.5" fill="#f6e6c8" filter="url(#bl05)">A</text>
<circle cx="275.1" cy="764.0" r="9" fill="#3a200e" filter="url(#bl1)"/>
<circle cx="275.1" cy="764.5" r="5.5" fill="#e8c89c" filter="url(#bl1)"/>
<text x="275.1" y="768.2" text-anchor="middle" font-family="Liberation Sans, sans-serif" font-weight="bold" font-size="11.5" fill="#f6e6c8" filter="url(#bl05)">A</text>
<circle cx="338.4" cy="764.0" r="11.1" fill="#76563c" filter="url(#bl15)"/>
<text x="338.4" y="769.8" text-anchor="middle" font-family="Liberation Sans, sans-serif" font-weight="bold" font-size="16.0" fill="#fbf0d8">A</text>
<circle cx="401.4" cy="764.0" r="12.4" fill="#76563c" filter="url(#bl15)"/>
<text x="401.4" y="770.7" text-anchor="middle" font-family="Liberation Sans, sans-serif" font-weight="bold" font-size="18.5" fill="#fbf0d8">A</text>
<circle cx="464.0" cy="764.0" r="13.7" fill="#76563c" filter="url(#bl15)"/>
<text x="464.0" y="771.6" text-anchor="middle" font-family="Liberation Sans, sans-serif" font-weight="bold" font-size="21.0" fill="#fbf0d8">A</text>
<circle cx="307.0" cy="814.1" r="9" fill="#3a200e" filter="url(#bl1)"/>
<circle cx="307.0" cy="814.6" r="5.5" fill="#e8c89c" filter="url(#bl1)"/>
<text x="307.0" y="818.3" text-anchor="middle" font-family="Liberation Sans, sans-serif" font-weight="bold" font-size="11.5" fill="#f6e6c8" filter="url(#bl05)">A</text>
<circle cx="369.8" cy="814.1" r="11.1" fill="#76563c" filter="url(#bl15)"/>
<text x="369.8" y="819.9" text-anchor="middle" font-family="Liberation Sans, sans-serif" font-weight="bold" font-size="16.0" fill="#fbf0d8">A</text>
<circle cx="432.7" cy="814.1" r="13.7" fill="#76563c" filter="url(#bl15)"/>
<text x="432.7" y="821.7" text-anchor="middle" font-family="Liberation Sans, sans-serif" font-weight="bold" font-size="21.0" fill="#fbf0d8">A</text>
<circle cx="495.6" cy="814.1" r="13.7" fill="#76563c" filter="url(#bl15)"/>
<text x="495.6" y="821.7" text-anchor="middle" font-family="Liberation Sans, sans-serif" font-weight="bold" font-size="21.0" fill="#fbf0d8">A</text>
<path d="M418.3,696.5 L378.5,761.5 L423.0,833.7" fill="none" stroke="#e81212" stroke-width="3.8" stroke-dasharray="12.5 8"/>
<path d="M462.8,695 L423.0,761.5 L467.5,833.7" fill="none" stroke="#e81212" stroke-width="3.8" stroke-dasharray="12.5 8"/>
<path d="M424.3,689.7 H464.8" fill="none" stroke="#e81212" stroke-width="3.8" stroke-dasharray="12.5 8"/>
<path d="M425.0,832.5 H467.5" fill="none" stroke="#e81212" stroke-width="3.8" stroke-dasharray="12.5 8"/>
<text x="438.5" y="822" font-family="Liberation Serif, serif" font-weight="bold" font-size="14" fill="#1fae3c" textLength="38" lengthAdjust="spacingAndGlyphs">200µm</text>
<rect x="442.0" y="825" width="29" height="3" fill="#1fae3c"/>
</g>
<clipPath id="dc2"><rect x="493.0" y="688.2" width="221.3" height="145.5"/></clipPath>
<g clip-path="url(#dc2)">
<rect x="493.0" y="688.2" width="221.3" height="145.5" fill="#d8ac7c"/>
<rect x="493.0" y="688.2" width="221.3" height="145.5" fill="#e8c8a0" filter="url(#noise)" opacity="0.55"/>
<circle cx="541.8" cy="714.2" r="27" fill="#4a2c16" opacity="0.45" filter="url(#bl3)"/>
<circle cx="604.6" cy="714.2" r="27" fill="#4a2c16" opacity="0.45" filter="url(#bl3)"/>
<circle cx="667.5" cy="714.2" r="27" fill="#4a2c16" opacity="0.45" filter="url(#bl3)"/>
<circle cx="730.4" cy="714.2" r="27" fill="#4a2c16" opacity="0.45" filter="url(#bl3)"/>
<circle cx="479.0" cy="764.0" r="27" fill="#4a2c16" opacity="0.45" filter="url(#bl3)"/>
<circle cx="509.9" cy="764.0" r="27" fill="#4a2c16" opacity="0.45" filter="url(#bl3)"/>
<circle cx="573.2" cy="764.0" r="27" fill="#4a2c16" opacity="0.45" filter="url(#bl3)"/>
<circle cx="636.2" cy="764.0" r="27" fill="#4a2c16" opacity="0.45" filter="url(#bl3)"/>
<circle cx="698.8" cy="764.0" r="27" fill="#4a2c16" opacity="0.45" filter="url(#bl3)"/>
<circle cx="541.8" cy="814.1" r="27" fill="#4a2c16" opacity="0.45" filter="url(#bl3)"/>
<circle cx="604.6" cy="814.1" r="27" fill="#4a2c16" opacity="0.45" filter="url(#bl3)"/>
<circle cx="667.5" cy="814.1" r="27" fill="#4a2c16" opacity="0.45" filter="url(#bl3)"/>
<circle cx="730.4" cy="814.1" r="27" fill="#4a2c16" opacity="0.45" filter="url(#bl3)"/>
<circle cx="541.8" cy="714.2" r="21.2" fill="#1c0d05" filter="url(#bl2)"/>
<circle cx="604.6" cy="714.2" r="21.2" fill="#1c0d05" filter="url(#bl2)"/>
<circle cx="667.5" cy="714.2" r="21.2" fill="#1c0d05" filter="url(#bl2)"/>
<circle cx="730.4" cy="714.2" r="21.2" fill="#1c0d05" filter="url(#bl2)"/>
<circle cx="479.0" cy="764.0" r="21.2" fill="#1c0d05" filter="url(#bl2)"/>
<circle cx="509.9" cy="764.0" r="21.2" fill="#1c0d05" filter="url(#bl2)"/>
<circle cx="573.2" cy="764.0" r="21.2" fill="#1c0d05" filter="url(#bl2)"/>
<circle cx="636.2" cy="764.0" r="21.2" fill="#1c0d05" filter="url(#bl2)"/>
<circle cx="698.8" cy="764.0" r="21.2" fill="#1c0d05" filter="url(#bl2)"/>
<circle cx="541.8" cy="814.1" r="21.2" fill="#1c0d05" filter="url(#bl2)"/>
<circle cx="604.6" cy="814.1" r="21.2" fill="#1c0d05" filter="url(#bl2)"/>
<circle cx="667.5" cy="814.1" r="21.2" fill="#1c0d05" filter="url(#bl2)"/>
<circle cx="730.4" cy="814.1" r="21.2" fill="#1c0d05" filter="url(#bl2)"/>
<circle cx="541.8" cy="714.2" r="9.3" fill="#76563c" filter="url(#bl15)"/>
<text x="541.8" y="718.7" text-anchor="middle" font-family="Liberation Sans, sans-serif" font-weight="bold" font-size="12.5" fill="#fbf0d8">A</text>
<circle cx="604.6" cy="714.2" r="11.1" fill="#76563c" filter="url(#bl15)"/>
<text x="604.6" y="720.0" text-anchor="middle" font-family="Liberation Sans, sans-serif" font-weight="bold" font-size="16.0" fill="#fbf0d8">A</text>
<circle cx="667.5" cy="714.2" r="13.7" fill="#76563c" filter="url(#bl15)"/>
<text x="667.5" y="721.8" text-anchor="middle" font-family="Liberation Sans, sans-serif" font-weight="bold" font-size="21.0" fill="#fbf0d8">A</text>
<circle cx="730.4" cy="714.2" r="13.7" fill="#76563c" filter="url(#bl15)"/>
<text x="730.4" y="721.8" text-anchor="middle" font-family="Liberation Sans, sans-serif" font-weight="bold" font-size="21.0" fill="#fbf0d8">A</text>
<circle cx="479.0" cy="764.0" r="8.5" fill="#76563c" filter="url(#bl15)"/>
<text x="479.0" y="768.0" text-anchor="middle" font-family="Liberation Sans, sans-serif" font-weight="bold" font-size="11.0" fill="#fbf0d8">A</text>
<circle cx="509.9" cy="764.0" r="8.5" fill="#76563c" filter="url(#bl15)"/>
<text x="509.9" y="768.0" text-anchor="middle" font-family="Liberation Sans, sans-serif" font-weight="bold" font-size="11.0" fill="#fbf0d8">A</text>
<circle cx="573.2" cy="764.0" r="11.1" fill="#76563c" filter="url(#bl15)"/>
<text x="573.2" y="769.8" text-anchor="middle" font-family="Liberation Sans, sans-serif" font-weight="bold" font-size="16.0" fill="#fbf0d8">A</text>
<circle cx="636.2" cy="764.0" r="13.7" fill="#76563c" filter="url(#bl15)"/>
<text x="636.2" y="771.6" text-anchor="middle" font-family="Liberation Sans, sans-serif" font-weight="bold" font-size="21.0" fill="#fbf0d8">A</text>
<circle cx="698.8" cy="764.0" r="13.7" fill="#76563c" filter="url(#bl15)"/>
<text x="698.8" y="771.6" text-anchor="middle" font-family="Liberation Sans, sans-serif" font-weight="bold" font-size="21.0" fill="#fbf0d8">A</text>
<circle cx="541.8" cy="814.1" r="9.3" fill="#76563c" filter="url(#bl15)"/>
<text x="541.8" y="818.6" text-anchor="middle" font-family="Liberation Sans, sans-serif" font-weight="bold" font-size="12.5" fill="#fbf0d8">A</text>
<circle cx="604.6" cy="814.1" r="11.1" fill="#76563c" filter="url(#bl15)"/>
<text x="604.6" y="819.9" text-anchor="middle" font-family="Liberation Sans, sans-serif" font-weight="bold" font-size="16.0" fill="#fbf0d8">A</text>
<circle cx="667.5" cy="814.1" r="13.7" fill="#76563c" filter="url(#bl15)"/>
<text x="667.5" y="821.7" text-anchor="middle" font-family="Liberation Sans, sans-serif" font-weight="bold" font-size="21.0" fill="#fbf0d8">A</text>
<circle cx="730.4" cy="814.1" r="13.7" fill="#76563c" filter="url(#bl15)"/>
<text x="730.4" y="821.7" text-anchor="middle" font-family="Liberation Sans, sans-serif" font-weight="bold" font-size="21.0" fill="#fbf0d8">A</text>
<path d="M590.2,696.5 L550.4,761.5 L591.1,833.7" fill="none" stroke="#e81212" stroke-width="3.8" stroke-dasharray="12.5 8"/>
<path d="M634.7,695 L594.9,761.5 L635.6,833.7" fill="none" stroke="#e81212" stroke-width="3.8" stroke-dasharray="12.5 8"/>
<path d="M596.2,689.7 H636.7" fill="none" stroke="#e81212" stroke-width="3.8" stroke-dasharray="12.5 8"/>
<path d="M593.1,832.5 H635.6" fill="none" stroke="#e81212" stroke-width="3.8" stroke-dasharray="12.5 8"/>
<text x="673.3" y="822" font-family="Liberation Serif, serif" font-weight="bold" font-size="14" fill="#1fae3c" textLength="38" lengthAdjust="spacingAndGlyphs">200µm</text>
<rect x="676.8" y="825" width="29" height="3" fill="#1fae3c"/>
</g>
<clipPath id="dc3"><rect x="728.1" y="688.2" width="221.3" height="145.5"/></clipPath>
<g clip-path="url(#dc3)">
<rect x="728.1" y="688.2" width="221.3" height="145.5" fill="#d8ac7c"/>
<rect x="728.1" y="688.2" width="221.3" height="145.5" fill="#e8c8a0" filter="url(#noise)" opacity="0.55"/>
<circle cx="776.9" cy="714.2" r="27" fill="#4a2c16" opacity="0.45" filter="url(#bl3)"/>
<circle cx="839.7" cy="714.2" r="27" fill="#4a2c16" opacity="0.45" filter="url(#bl3)"/>
<circle cx="902.6" cy="714.2" r="27" fill="#4a2c16" opacity="0.45" filter="url(#bl3)"/>
<circle cx="965.5" cy="714.2" r="27" fill="#4a2c16" opacity="0.45" filter="url(#bl3)"/>
<circle cx="714.1" cy="764.0" r="27" fill="#4a2c16" opacity="0.45" filter="url(#bl3)"/>
<circle cx="745.0" cy="764.0" r="27" fill="#4a2c16" opacity="0.45" filter="url(#bl3)"/>
<circle cx="808.3" cy="764.0" r="27" fill="#4a2c16" opacity="0.45" filter="url(#bl3)"/>
<circle cx="871.3" cy="764.0" r="27" fill="#4a2c16" opacity="0.45" filter="url(#bl3)"/>
<circle cx="933.9" cy="764.0" r="27" fill="#4a2c16" opacity="0.45" filter="url(#bl3)"/>
<circle cx="776.9" cy="814.1" r="27" fill="#4a2c16" opacity="0.45" filter="url(#bl3)"/>
<circle cx="839.7" cy="814.1" r="27" fill="#4a2c16" opacity="0.45" filter="url(#bl3)"/>
<circle cx="902.6" cy="814.1" r="27" fill="#4a2c16" opacity="0.45" filter="url(#bl3)"/>
<circle cx="965.5" cy="814.1" r="27" fill="#4a2c16" opacity="0.45" filter="url(#bl3)"/>
<circle cx="776.9" cy="714.2" r="21.2" fill="#1c0d05" filter="url(#bl2)"/>
<circle cx="839.7" cy="714.2" r="21.2" fill="#1c0d05" filter="url(#bl2)"/>
<circle cx="902.6" cy="714.2" r="21.2" fill="#1c0d05" filter="url(#bl2)"/>
<circle cx="965.5" cy="714.2" r="21.2" fill="#1c0d05" filter="url(#bl2)"/>
<circle cx="714.1" cy="764.0" r="21.2" fill="#1c0d05" filter="url(#bl2)"/>
<circle cx="745.0" cy="764.0" r="21.2" fill="#1c0d05" filter="url(#bl2)"/>
<circle cx="808.3" cy="764.0" r="21.2" fill="#1c0d05" filter="url(#bl2)"/>
<circle cx="871.3" cy="764.0" r="21.2" fill="#1c0d05" filter="url(#bl2)"/>
<circle cx="933.9" cy="764.0" r="21.2" fill="#1c0d05" filter="url(#bl2)"/>
<circle cx="776.9" cy="814.1" r="21.2" fill="#1c0d05" filter="url(#bl2)"/>
<circle cx="839.7" cy="814.1" r="21.2" fill="#1c0d05" filter="url(#bl2)"/>
<circle cx="902.6" cy="814.1" r="21.2" fill="#1c0d05" filter="url(#bl2)"/>
<circle cx="965.5" cy="814.1" r="21.2" fill="#1c0d05" filter="url(#bl2)"/>
<circle cx="776.9" cy="714.2" r="9.0" fill="#76563c" filter="url(#bl15)"/>
<text x="776.9" y="718.5" text-anchor="middle" font-family="Liberation Sans, sans-serif" font-weight="bold" font-size="12.0" fill="#fbf0d8">A</text>
<circle cx="839.7" cy="714.2" r="11.1" fill="#76563c" filter="url(#bl15)"/>
<text x="839.7" y="720.0" text-anchor="middle" font-family="Liberation Sans, sans-serif" font-weight="bold" font-size="16.0" fill="#fbf0d8">A</text>
<circle cx="902.6" cy="714.2" r="13.2" fill="#76563c" filter="url(#bl15)"/>
<text x="902.6" y="721.4" text-anchor="middle" font-family="Liberation Sans, sans-serif" font-weight="bold" font-size="20.0" fill="#fbf0d8">A</text>
<circle cx="965.5" cy="714.2" r="13.7" fill="#76563c" filter="url(#bl15)"/>
<text x="965.5" y="721.8" text-anchor="middle" font-family="Liberation Sans, sans-serif" font-weight="bold" font-size="21.0" fill="#fbf0d8">A</text>
<circle cx="714.1" cy="764.0" r="8.5" fill="#76563c" filter="url(#bl15)"/>
<text x="714.1" y="768.0" text-anchor="middle" font-family="Liberation Sans, sans-serif" font-weight="bold" font-size="11.0" fill="#fbf0d8">A</text>
<circle cx="745.0" cy="764.0" r="8.5" fill="#76563c" filter="url(#bl15)"/>
<text x="745.0" y="768.0" text-anchor="middle" font-family="Liberation Sans, sans-serif" font-weight="bold" font-size="11.0" fill="#fbf0d8">A</text>
<circle cx="808.3" cy="764.0" r="11.1" fill="#76563c" filter="url(#bl15)"/>
<text x="808.3" y="769.8" text-anchor="middle" font-family="Liberation Sans, sans-serif" font-weight="bold" font-size="16.0" fill="#fbf0d8">A</text>
<circle cx="871.3" cy="764.0" r="13.2" fill="#76563c" filter="url(#bl15)"/>
<text x="871.3" y="771.2" text-anchor="middle" font-family="Liberation Sans, sans-serif" font-weight="bold" font-size="20.0" fill="#fbf0d8">A</text>
<circle cx="933.9" cy="764.0" r="13.7" fill="#76563c" filter="url(#bl15)"/>
<text x="933.9" y="771.6" text-anchor="middle" font-family="Liberation Sans, sans-serif" font-weight="bold" font-size="21.0" fill="#fbf0d8">A</text>
<circle cx="776.9" cy="814.1" r="9.0" fill="#76563c" filter="url(#bl15)"/>
<text x="776.9" y="818.4" text-anchor="middle" font-family="Liberation Sans, sans-serif" font-weight="bold" font-size="12.0" fill="#fbf0d8">A</text>
<circle cx="839.7" cy="814.1" r="11.1" fill="#76563c" filter="url(#bl15)"/>
<text x="839.7" y="819.9" text-anchor="middle" font-family="Liberation Sans, sans-serif" font-weight="bold" font-size="16.0" fill="#fbf0d8">A</text>
<circle cx="902.6" cy="814.1" r="13.2" fill="#76563c" filter="url(#bl15)"/>
<text x="902.6" y="821.3" text-anchor="middle" font-family="Liberation Sans, sans-serif" font-weight="bold" font-size="20.0" fill="#fbf0d8">A</text>
<circle cx="965.5" cy="814.1" r="13.7" fill="#76563c" filter="url(#bl15)"/>
<text x="965.5" y="821.7" text-anchor="middle" font-family="Liberation Sans, sans-serif" font-weight="bold" font-size="21.0" fill="#fbf0d8">A</text>
<path d="M762.7,696.5 L727.6,761.5 L767.9,833.7" fill="none" stroke="#e81212" stroke-width="3.8" stroke-dasharray="12.5 8"/>
<path d="M806.7,695 L771.6,761.5 L811.9,833.7" fill="none" stroke="#e81212" stroke-width="3.8" stroke-dasharray="12.5 8"/>
<path d="M768.7,689.7 H808.7" fill="none" stroke="#e81212" stroke-width="3.8" stroke-dasharray="12.5 8"/>
<path d="M769.9,832.5 H811.9" fill="none" stroke="#e81212" stroke-width="3.8" stroke-dasharray="12.5 8"/>
<text x="908.4" y="822" font-family="Liberation Serif, serif" font-weight="bold" font-size="14" fill="#1fae3c" textLength="38" lengthAdjust="spacingAndGlyphs">200µm</text>
<rect x="911.9" y="825" width="29" height="3" fill="#1fae3c"/>
</g>
</svg>
</body></html>
